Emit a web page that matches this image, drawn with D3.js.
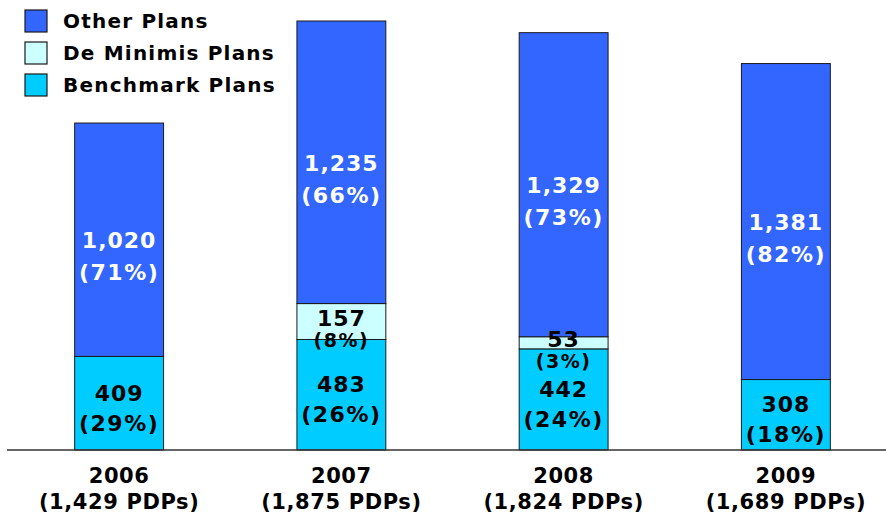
<!DOCTYPE html>
<html>
<head>
<meta charset="utf-8">
<script src="https://cdn.jsdelivr.net/npm/d3@7"></script>
<style>
  html, body { margin: 0; padding: 0; background: #fff; }
  svg { display: block; font-family: "DejaVu Sans", Verdana, sans-serif; font-weight: bold; }
</style>
</head>
<body>
<svg id="chart" width="886" height="520"></svg>
<script>
// Plan counts per year
const years = ["2006", "2007", "2008", "2009"];
const yearTotals = ["1,429 PDPs", "1,875 PDPs", "1,824 PDPs", "1,689 PDPs"];
const seriesNames = ["Benchmark Plans", "De Minimis Plans", "Other Plans"];
const benchmark = [409, 483, 442, 308];
const deMinimis = [0, 157, 53, 0];
const other = [1020, 1235, 1329, 1381];
const benchmarkPct = ["29%", "26%", "24%", "18%"];
const deMinimisPct = ["", "8%", "3%", ""];
const otherPct = ["71%", "66%", "73%", "82%"];

const colors = { "Benchmark Plans": "#00CCFF", "De Minimis Plans": "#CCFFFF", "Other Plans": "#3366FF" };

const svg = d3.select("#chart");
const baseY = 450;

const rows = years.map((y, i) => ({
  year: y,
  "Benchmark Plans": benchmark[i],
  "De Minimis Plans": deMinimis[i],
  "Other Plans": other[i],
  pct: { "Benchmark Plans": benchmarkPct[i], "De Minimis Plans": deMinimisPct[i], "Other Plans": otherPct[i] }
}));

const stack = d3.stack().keys(seriesNames);
const layers = stack(rows);

const x = d3.scaleBand().domain(years).range([8, 897]).paddingInner(0.6).paddingOuter(0.3);
const maxTotal = d3.max(rows, r => r["Benchmark Plans"] + r["De Minimis Plans"] + r["Other Plans"]);
const y = d3.scaleLinear().domain([0, maxTotal]).range([baseY, 21]);

// stacked segments
const g = svg.append("g");
layers.forEach(layer => {
  g.selectAll(null)
    .data(layer.filter(d => d[1] > d[0]))
    .enter().append("rect")
    .attr("x", d => x(d.data.year))
    .attr("width", x.bandwidth())
    .attr("y", d => y(d[1]))
    .attr("height", d => y(d[0]) - y(d[1]))
    .attr("fill", colors[layer.key])
    .attr("stroke", "#1a1a1a")
    .attr("stroke-width", 1);
});

// segment labels: value and share
layers.forEach(layer => {
  layer.filter(d => d[1] > d[0]).forEach(d => {
    const key = layer.key;
    const cx = x(d.data.year) + x.bandwidth() / 2;
    const mid = (y(d[0]) + y(d[1])) / 2;
    const val = d3.format(",")(d[1] - d[0]);
    let vY, pY, pSize = 22;
    if (key === "Other Plans") { vY = mid + 1; pY = mid + 33; }
    else if (key === "De Minimis Plans") { vY = mid - 3; pY = mid + 18; pSize = 19; }
    else { vY = mid - 10; pY = mid + 20; }
    const fill = key === "Other Plans" ? "#ffffff" : "#000000";
    svg.append("text").attr("x", cx).attr("y", vY)
      .attr("text-anchor", "middle").attr("dominant-baseline", "central")
      .attr("font-size", 22).attr("letter-spacing", 1).attr("fill", fill).text(val);
    svg.append("text").attr("x", cx).attr("y", pY)
      .attr("text-anchor", "middle").attr("dominant-baseline", "central")
      .attr("font-size", pSize).attr("letter-spacing", 1.5).attr("fill", fill).text("(" + d.data.pct[key] + ")");
  });
});

// baseline
svg.append("line").attr("x1", 7).attr("x2", 886).attr("y1", baseY).attr("y2", baseY)
  .attr("stroke", "#333").attr("stroke-width", 1.5);

// category labels
years.forEach((yr, i) => {
  const cx = x(yr) + x.bandwidth() / 2;
  svg.append("text").attr("x", cx).attr("y", 476)
    .attr("text-anchor", "middle").attr("dominant-baseline", "central")
    .attr("font-size", 21).attr("letter-spacing", 0.6).attr("fill", "#000").text(yr);
  svg.append("text").attr("x", cx).attr("y", 502)
    .attr("text-anchor", "middle").attr("dominant-baseline", "central")
    .attr("font-size", 21).attr("letter-spacing", 0.6).attr("fill", "#000").text("(" + yearTotals[i] + ")");
});

// legend
const legendKeys = ["Other Plans", "De Minimis Plans", "Benchmark Plans"];
const lg = svg.append("g");
legendKeys.forEach((k, i) => {
  const ly = 10 + i * 32;
  lg.append("rect").attr("x", 25).attr("y", ly).attr("width", 22).attr("height", 22)
    .attr("fill", colors[k]).attr("stroke", "#1a1a1a").attr("stroke-width", 1.2);
  lg.append("text").attr("x", 63).attr("y", ly + 11)
    .attr("dominant-baseline", "central").attr("font-size", 20).attr("letter-spacing", 1.2)
    .attr("fill", "#000").text(k);
});
</script>
</body>
</html>
